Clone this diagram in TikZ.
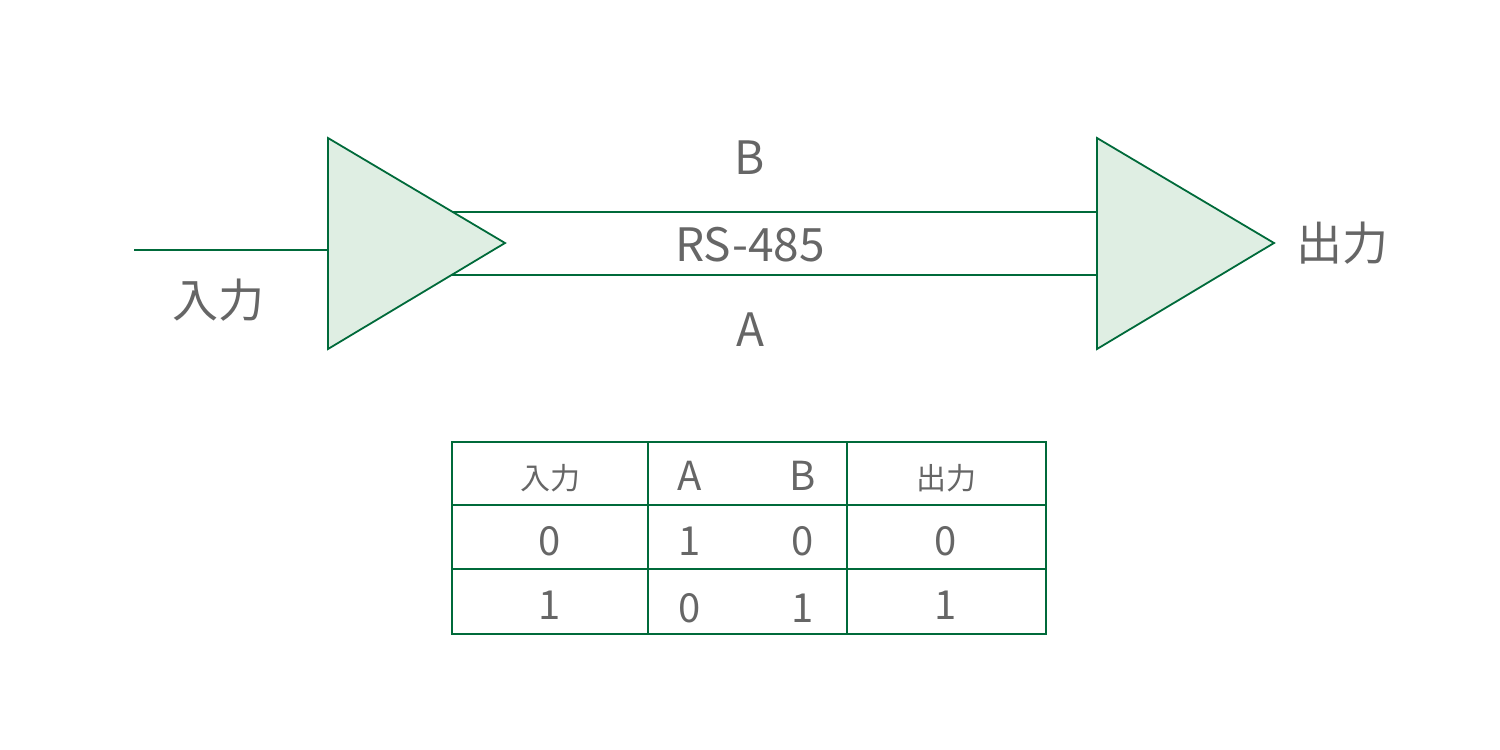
\documentclass[tikz,border=0pt]{standalone}
\usepackage{fontspec}
\setmainfont{Noto Sans CJK JP}
\usetikzlibrary{positioning}
\definecolor{linegreen}{HTML}{006A3A}
\definecolor{fillgreen}{HTML}{DFEEE3}
\definecolor{textgray}{HTML}{666666}
\begin{document}
\begin{tikzpicture}
[x=0.5pt, y=-0.5pt, every node/.style={inner sep=0pt, text=textgray},
 amp/.style={draw=linegreen, fill=fillgreen, line width=0.9pt},
 wire/.style={draw=linegreen, line width=0.9pt},
 big/.style={font=\fontsize{23}{23}\selectfont},
 cell/.style={font=\fontsize{20}{20}\selectfont},
 head/.style={font=\fontsize{15}{15}\selectfont}]
\useasboundingbox (0,0) rectangle (1500,750);
% driver and receiver
\draw [amp] (328,138) -- (505,243) -- (328,349) -- cycle;
\draw [amp] (1097,138) -- (1274,243) -- (1097,349) -- cycle;
\coordinate (in) at (134,250);
\coordinate (drv) at (328,250);
\coordinate (bl) at (452,212);
\coordinate (br) at (1097,212);
\coordinate (al) at (452,275);
\coordinate (ar) at (1097,275);
\draw [wire] (in) -- (drv);
\draw [wire] (bl) -- (br);
\draw [wire] (al) -- (ar);
\node (lblB) [big] at (750,158) {B};
\node (lblbus) [big] at (750,245) {RS-485};
\node (lblA) [big] at (750,330) {A};
\node (lblin) [big] at (218,300) {入力};
\node (lblout) [big] at (1342,243) {出力};
% truth table
\draw [wire] (452,442) rectangle (1046,634);
\draw [wire] (452,505) -- (1046,505);
\draw [wire] (452,569) -- (1046,569);
\draw [wire] (648,442) -- (648,634);
\draw [wire] (847,442) -- (847,634);
\node (h1) [head] at (550,478) {入力};
\node (h2) [cell] at (690,476) {A};
\node (h3) [cell] at (803,476) {B};
\node (h4) [head] at (946,478) {出力};
\node (r11) [cell] at (550,541) {0};
\node (r12) [cell] at (690,541) {1};
\node (r13) [cell] at (803,541) {0};
\node (r14) [cell] at (946,541) {0};
\node (r21) [cell] at (550,605) {1};
\node (r22) [cell] at (690,608) {0};
\node (r23) [cell] at (803,608) {1};
\node (r24) [cell] at (946,605) {1};
\end{tikzpicture}
\end{document}
